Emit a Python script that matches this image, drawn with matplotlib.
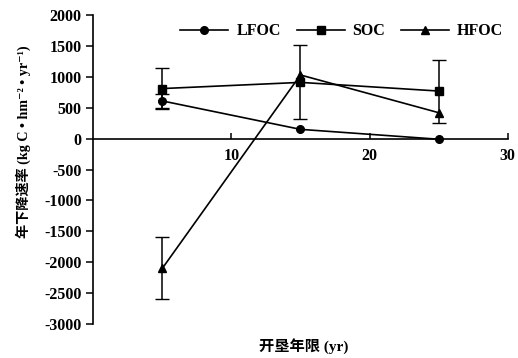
import matplotlib.pyplot as plt

plt.rcParams['font.family'] = ['Liberation Serif', 'Noto Sans CJK SC', 'DejaVu Serif']
plt.rcParams['font.weight'] = 'bold'
plt.rcParams['axes.unicode_minus'] = False

years = [5, 15, 25]

lfoc = [610, 150, -10]
lfoc_err = [110, 0, 0]
soc = [810, 910, 770]
soc_err = [330, 600, 510]
hfoc = [-2100, 1030, 420]
hfoc_err = [500, 0, 0]

y_ticks = [2000, 1500, 1000, 500, 0, -500, -1000, -1500, -2000, -2500, -3000]
x_ticks = [10, 20, 30]

fig = plt.figure(figsize=(5.18, 3.58), dpi=100)
ax = fig.add_axes([0.18, 0.095, 0.80, 0.863])

series = [
    ('LFOC', lfoc, lfoc_err, 'o'),
    ('SOC', soc, soc_err, 's'),
    ('HFOC', hfoc, hfoc_err, '^'),
]
for name, vals, err, mk in series:
    ax.plot(years, vals, color='black', lw=1.2, marker=mk, markersize=5.5, label=name)
    # only draw whiskers where a deviation was reported
    idx = [i for i, e in enumerate(err) if e > 0]
    ax.errorbar([years[i] for i in idx], [vals[i] for i in idx],
                yerr=[err[i] for i in idx], fmt='none', ecolor='black',
                capsize=5, elinewidth=1.1)

ax.set_xlim(0, 30)
ax.set_ylim(-3000, 2000)
ax.set_yticks(y_ticks)
ax.set_xticks(x_ticks)

ax.spines['top'].set_visible(False)
ax.spines['right'].set_visible(False)
ax.spines['bottom'].set_position(('data', 0))
ax.spines['left'].set_linewidth(1.2)
ax.spines['bottom'].set_linewidth(1.2)
ax.tick_params(axis='y', direction='out', length=5, width=1.1, labelsize=11.5)
ax.tick_params(axis='x', direction='in', length=4, width=1.1, labelsize=11.5, pad=7)

ax.set_ylabel('年下降速率 (kg C • hm⁻² • yr⁻¹)', fontsize=10.2, fontweight='bold')
ax.yaxis.set_label_coords(-0.15, 0.59)
fig.text(0.587, 0.02, '开垦年限 (yr)', ha='center', fontsize=11, fontweight='bold')

ax.legend(loc='upper center', bbox_to_anchor=(0.60, 1.02), ncol=3, frameon=False,
          fontsize=11.5, handlelength=3, columnspacing=1.0, handletextpad=0.5)

fig.savefig('out.png', dpi=100)
